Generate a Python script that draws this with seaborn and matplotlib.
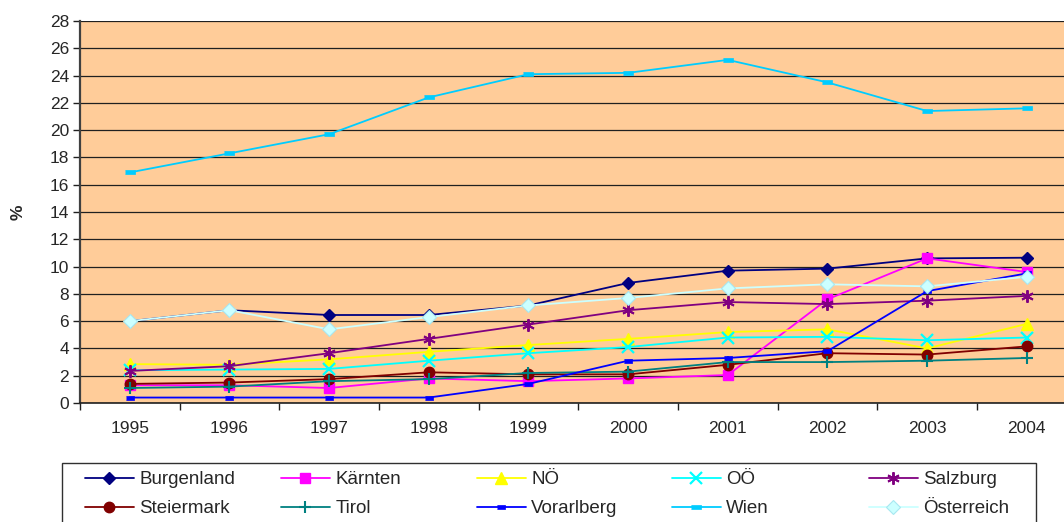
import pandas as pd
import seaborn as sns
import matplotlib.pyplot as plt
from matplotlib.patches import Rectangle

sns.set_style("white")
plt.rcParams['font.family'] = ['Liberation Sans', 'DejaVu Sans']

# Daten
jahre = [1995, 1996, 1997, 1998, 1999, 2000, 2001, 2002, 2003, 2004]
burgenland = [6.0, 6.8, 6.45, 6.45, 7.15, 8.8, 9.7, 9.85, 10.6, 10.65]
kaernten = [1.3, 1.3, 1.1, 1.8, 1.6, 1.8, 2.05, 7.6, 10.6, 9.6]
noe = [2.85, 2.8, 3.2, 3.75, 4.25, 4.7, 5.2, 5.4, 4.0, 5.8]
ooe = [2.4, 2.45, 2.5, 3.1, 3.65, 4.1, 4.8, 4.85, 4.6, 4.8]
salzburg = [2.35, 2.7, 3.65, 4.7, 5.75, 6.8, 7.4, 7.25, 7.5, 7.85]
steiermark = [1.4, 1.5, 1.75, 2.25, 2.1, 2.1, 2.8, 3.65, 3.55, 4.15]
tirol = [1.1, 1.2, 1.6, 1.75, 2.2, 2.3, 3.0, 3.0, 3.1, 3.3]
vorarlberg = [0.4, 0.4, 0.4, 0.4, 1.4, 3.1, 3.3, 3.8, 8.2, 9.5]
wien = [16.9, 18.3, 19.7, 22.4, 24.1, 24.2, 25.15, 23.5, 21.4, 21.6]
oesterreich = [6.0, 6.8, 5.4, 6.3, 7.15, 7.7, 8.4, 8.7, 8.55, 9.25]

bar = [(-1, -0.45), (1, -0.45), (1, 0.45), (-1, 0.45)]

# name, werte, farbe, marker, markersize, markerfarbe, randfarbe, mew
serien = [
    ("Burgenland", burgenland, "#000080", "D", 6.5, "#000080", "#000080", 1),
    ("Kärnten", kaernten, "#FF00FF", "s", 7, "#FF00FF", "#FF00FF", 1),
    ("NÖ", noe, "#FFFF00", "^", 8, "#FFFF00", "#FFFF00", 1),
    ("OÖ", ooe, "#00FFFF", "x", 8, "#00FFFF", "#00FFFF", 1.6),
    ("Salzburg", salzburg, "#800080", (6, 2, 0), 9, "#800080", "#800080", 1.4),
    ("Steiermark", steiermark, "#800000", "o", 7.5, "#800000", "#800000", 1),
    ("Tirol", tirol, "#008080", "+", 9, "#008080", "#008080", 1.5),
    ("Vorarlberg", vorarlberg, "#0000FF", bar, 5.5, "#0000FF", "#0000FF", 0.5),
    ("Wien", wien, "#00CCFF", bar, 7.5, "#00CCFF", "#00CCFF", 0.5),
    ("Österreich", oesterreich, "#CCFFFF", "D", 7, "#CCFFFF", "#A8E8F0", 0.8),
]

fig = plt.figure(figsize=(10.64, 5.22), dpi=100)
ax = fig.add_axes([80 / 1064, 119 / 522, 996.6 / 1064, 382 / 522])
ax.set_facecolor("#FFCC99")

for name, werte, farbe, mk, ms, mfc, mec, mew in serien:
    df = pd.DataFrame({"Jahr": jahre, "Wert": werte})
    sns.lineplot(data=df, x="Jahr", y="Wert", ax=ax, color=farbe, marker=mk,
                 markersize=ms, markerfacecolor=mfc, markeredgecolor=mec,
                 markeredgewidth=mew, linewidth=1.3, label=name)

if ax.get_legend() is not None:
    ax.get_legend().remove()

ax.set_ylim(0, 28)
ax.set_yticks(range(0, 29, 2))
ax.set_xlim(1994.5, 2004.5)
ax.set_xticks(jahre)
ax.set_xticks([j + 0.5 for j in jahre[:-1]] + [1994.5], minor=True)
ax.yaxis.grid(True, color="#202020", linewidth=0.9)
ax.xaxis.grid(False)
ax.set_axisbelow(True)

for s in ["top", "right"]:
    ax.spines[s].set_visible(False)
ax.spines["left"].set_color("#404040")
ax.spines["left"].set_linewidth(1.6)
ax.spines["bottom"].set_color("#202020")
ax.spines["bottom"].set_linewidth(1.2)

ax.tick_params(axis="y", which="major", direction="out", length=5, width=1,
               color="#202020", pad=3, labelsize=12.5, left=True)
ax.tick_params(axis="x", which="major", length=0, pad=13, labelsize=12.5)
ax.tick_params(axis="x", which="minor", direction="out", length=5, width=1,
               color="#202020", bottom=True)

ax.set_xlabel("")
ax.set_ylabel("%", fontsize=12.5, fontweight="bold")
ax.yaxis.set_label_coords(-0.055, 0.5)

# Legende: 5 Spalten, 2 Zeilen
handles, labels = ax.get_legend_handles_labels()
spalten_x = [85, 281, 477, 672, 869]
for i, x in enumerate(spalten_x):
    h = [handles[i], handles[i + 5]]
    l = [labels[i], labels[i + 5]]
    fig.legend(h, l, loc="upper left", bbox_to_anchor=(x / 1064, (522 - 471) / 522),
               frameon=False, fontsize=13.5, handlelength=2.6, handletextpad=0.3,
               borderpad=0, borderaxespad=0, labelspacing=0.65)

fig.add_artist(Rectangle((62 / 1064, -0.01), (1036 - 62) / 1064, (522 - 463) / 522 + 0.01,
                         transform=fig.transFigure, fill=False, edgecolor="#303030",
                         linewidth=1))

fig.savefig("out.png", dpi=100)
